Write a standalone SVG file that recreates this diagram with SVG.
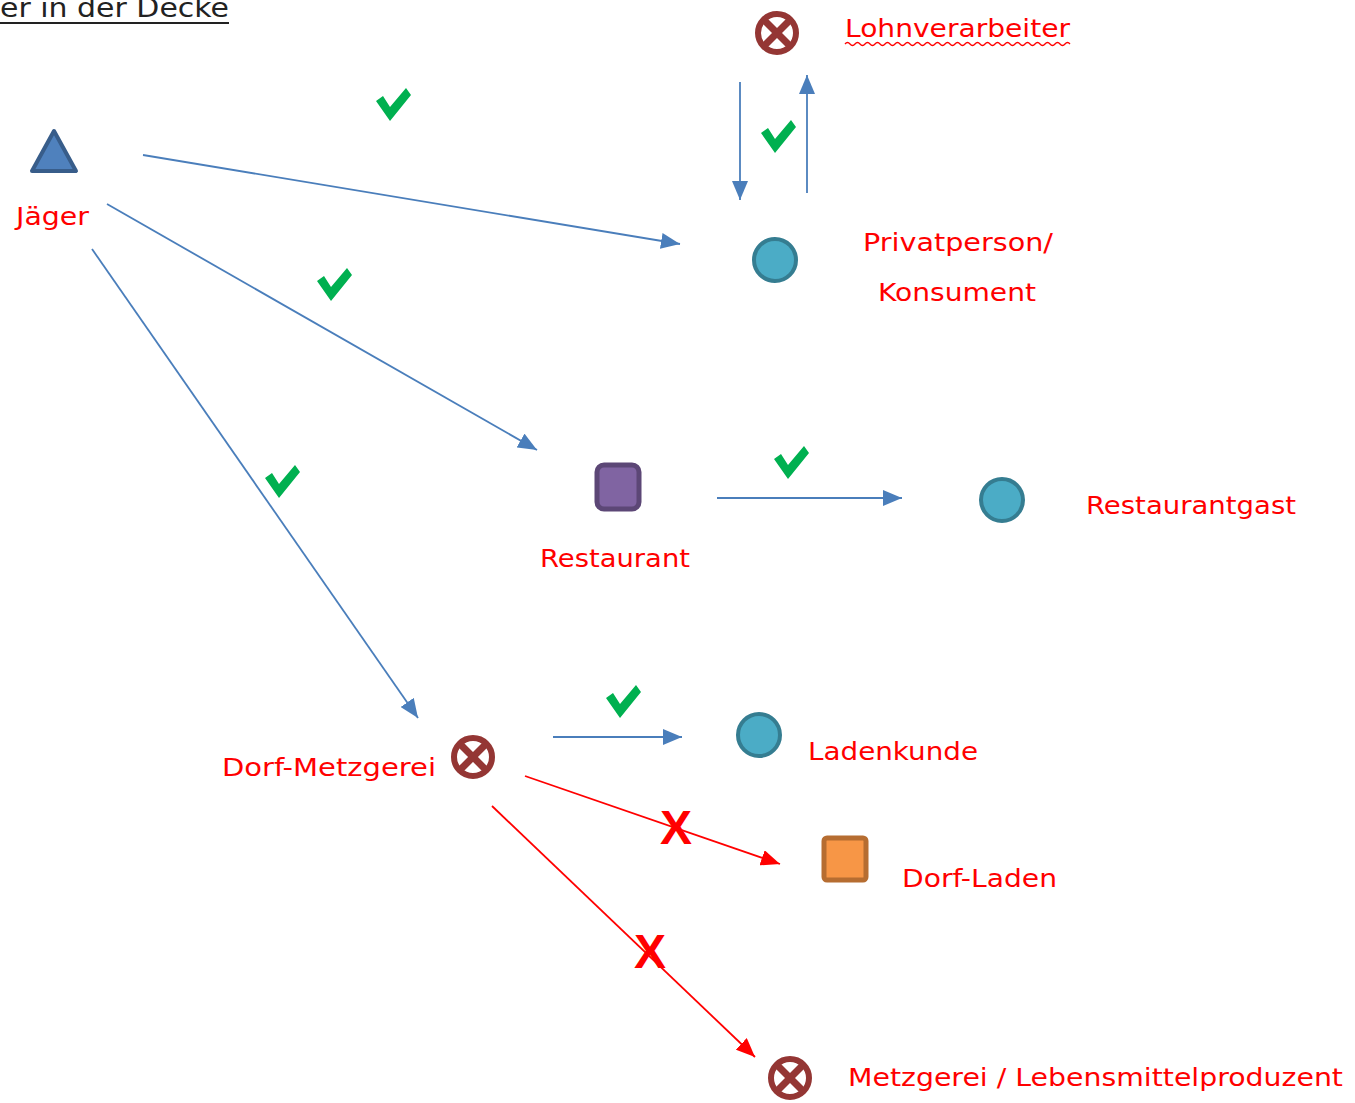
<svg xmlns="http://www.w3.org/2000/svg" width="1355" height="1103" viewBox="0 0 1355 1103">
<style>
.lbl{font-family:"DejaVu Sans","Liberation Sans",sans-serif;font-size:25px;fill:#ff0000}
.blue{stroke:#4a7ebb;stroke-width:1.8;fill:none}
.red{stroke:#ff0000;stroke-width:1.8;fill:none}
.circ{fill:#4bacc6;stroke:#357d91;stroke-width:4}
.orx{fill:#fff;stroke:#943634;stroke-width:6}
.orl{stroke:#943634;stroke-width:7}
.xm{font-family:"Liberation Sans",sans-serif;font-weight:bold;font-size:48px;fill:#ff0000}
</style>
<defs>
<marker id="ab" markerUnits="userSpaceOnUse" markerWidth="20" markerHeight="16" refX="19" refY="8" orient="auto"><path d="M0,0 L19,8 L0,16 Z" fill="#4a7ebb"/></marker>
<marker id="ar" markerUnits="userSpaceOnUse" markerWidth="20" markerHeight="16" refX="19" refY="8" orient="auto"><path d="M0,0 L19,8 L0,16 Z" fill="#ff0000"/></marker>
<path id="chk" d="M-17,-4 L-10,-9 L-3,2 L13,-17 L18,-10 L-3,16 Z" fill="#00b050"/>
<g id="orsym"><circle r="19" class="orx"/><line x1="-13" y1="-13" x2="13" y2="13" class="orl"/><line x1="13" y1="-13" x2="-13" y2="13" class="orl"/></g>
</defs>
<rect width="1355" height="1103" fill="#fff"/>
<g id="title"><text x="0" y="17" font-family="DejaVu Sans,sans-serif" font-size="26" fill="#222" textLength="229" lengthAdjust="spacingAndGlyphs">er in der Decke</text><line x1="0" y1="23" x2="229" y2="23" stroke="#222" stroke-width="2"/></g>
<g id="connectors">
<line x1="143" y1="155" x2="680" y2="244" class="blue" marker-end="url(#ab)"/>
<line x1="107" y1="204" x2="537" y2="450" class="blue" marker-end="url(#ab)"/>
<line x1="92" y1="249" x2="418" y2="718" class="blue" marker-end="url(#ab)"/>
<line x1="740" y1="82" x2="740" y2="200" class="blue" marker-end="url(#ab)"/>
<line x1="807" y1="193" x2="807" y2="75" class="blue" marker-end="url(#ab)"/>
<line x1="717" y1="498" x2="902" y2="498" class="blue" marker-end="url(#ab)"/>
<line x1="553" y1="737" x2="682" y2="737" class="blue" marker-end="url(#ab)"/>
<line x1="525" y1="776" x2="780" y2="864" class="red" marker-end="url(#ar)"/>
<line x1="492" y1="806" x2="755" y2="1057" class="red" marker-end="url(#ar)"/>
</g>
<g id="marks">
<use href="#chk" x="393" y="105"/>
<use href="#chk" x="334" y="285"/>
<use href="#chk" x="282" y="482"/>
<use href="#chk" x="778" y="137"/>
<use href="#chk" x="791" y="463"/>
<use href="#chk" x="623" y="702"/>
<text x="676" y="844" class="xm" text-anchor="middle">X</text>
<text x="650" y="968" class="xm" text-anchor="middle">X</text>
</g>
<g id="jaeger"><path d="M54,131 L76,171 L32,171 Z" fill="#4f81bd" stroke="#385d8a" stroke-width="4" stroke-linejoin="round"/><text x="16" y="225" class="lbl" textLength="73" lengthAdjust="spacingAndGlyphs">Jäger</text></g>
<g id="lohnverarbeiter"><use href="#orsym" x="777" y="33"/><text x="845" y="37" class="lbl" textLength="225" lengthAdjust="spacingAndGlyphs">Lohnverarbeiter</text><path d="M845,44 q2.5,-3 5,0 t5,0 t5,0 t5,0 t5,0 t5,0 t5,0 t5,0 t5,0 t5,0 t5,0 t5,0 t5,0 t5,0 t5,0 t5,0 t5,0 t5,0 t5,0 t5,0 t5,0 t5,0 t5,0 t5,0 t5,0 t5,0 t5,0 t5,0 t5,0 t5,0 t5,0 t5,0 t5,0 t5,0 t5,0 t5,0 t5,0 t5,0 t5,0 t5,0 t5,0 t5,0 t5,0 t5,0 t5,0" fill="none" stroke="#ff0000" stroke-width="1.3"/></g>
<g id="privatperson"><circle cx="775" cy="260" r="21" class="circ"/><text x="863" y="251" class="lbl" textLength="190" lengthAdjust="spacingAndGlyphs">Privatperson/</text><text x="878" y="301" class="lbl" textLength="158" lengthAdjust="spacingAndGlyphs">Konsument</text></g>
<g id="restaurant"><rect x="597" y="465" width="42" height="44" rx="7" fill="#8064a2" stroke="#5c4776" stroke-width="5"/><text x="540" y="567" class="lbl" textLength="150" lengthAdjust="spacingAndGlyphs">Restaurant</text></g>
<g id="restaurantgast"><circle cx="1002" cy="500" r="21" class="circ"/><text x="1086" y="514" class="lbl" textLength="210" lengthAdjust="spacingAndGlyphs">Restaurantgast</text></g>
<g id="dorfmetzgerei"><use href="#orsym" x="473" y="757"/><text x="222" y="776" class="lbl" textLength="214" lengthAdjust="spacingAndGlyphs">Dorf-Metzgerei</text></g>
<g id="ladenkunde"><circle cx="759" cy="735" r="21" class="circ"/><text x="808" y="760" class="lbl" textLength="170" lengthAdjust="spacingAndGlyphs">Ladenkunde</text></g>
<g id="dorfladen"><rect x="824" y="838" width="42" height="42" rx="3" fill="#f79646" stroke="#b66d31" stroke-width="5"/><text x="902" y="887" class="lbl" textLength="155" lengthAdjust="spacingAndGlyphs">Dorf-Laden</text></g>
<g id="metzgerei"><use href="#orsym" x="790" y="1078"/><text x="848" y="1086" class="lbl" textLength="495" lengthAdjust="spacingAndGlyphs">Metzgerei / Lebensmittelproduzent</text></g>
</svg>
